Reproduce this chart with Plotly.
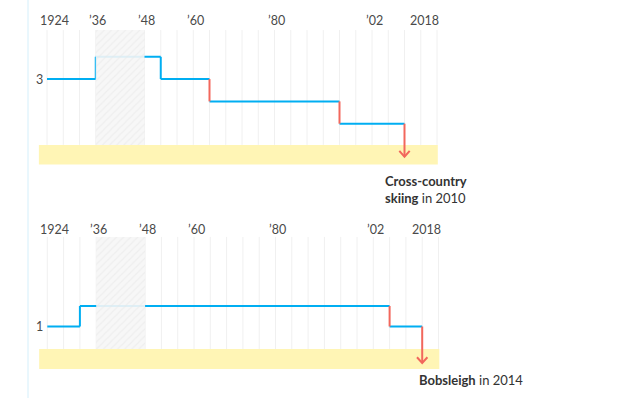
import plotly.graph_objects as go

# ---------------- data ----------------
games = [1924, 1928, 1932, 1936, 1940, 1944, 1948, 1952, 1956, 1960, 1964, 1968,
         1972, 1976, 1980, 1984, 1988, 1992, 1994, 1998, 2002, 2006, 2010, 2014, 2018]
cancelled = [1940, 1944]
tick_years = [1924, 1936, 1948, 1960, 1980, 2002, 2018]
tick_text = ["1924", "’36", "’48", "’60", "’80", "’02", "2018"]

xc_years = [1924, 1936, 1952, 1964, 1994, 2010]
xc_values = [3, 4, 3, 2, 1, 0]
xc_red = [False, False, True, True, True]      # colour of the step at xc_years[1:]
xc_ytick = 3

bob_years = [1924, 1932, 2006, 2014]
bob_values = [1, 2, 1, 0]
bob_red = [False, True, True]
bob_ytick = 1

# ---------------- style ----------------
W, H = 632, 398
BLUE = "#00aef2"
RED = "#f2675c"
YELLOW = "#fff5b5"
GRID = "#f0f0f0"
FONT = "Lato"
TICK = "#4a4a4a"
idx = {y: i for i, y in enumerate(games)}

fig = go.Figure()


def panel(years, values, reds, xa, ya, grid_top, band_top, band_bot, tip, chev_dy):
    xr = "x" if xa == "x" else "x2"
    yr = "y" if ya == "y" else "y2"
    # gridlines
    for g in games:
        if g in cancelled:
            continue
        fig.add_shape(type="line", xref=xr, yref=yr, x0=idx[g], x1=idx[g],
                      y0=band_top, y1=grid_top, line=dict(color=GRID, width=1), layer="below")
    # yellow band
    fig.add_shape(type="rect", xref=xr, yref=yr, x0=-0.5, x1=24.05, y0=band_bot, y1=band_top,
                  fillcolor=YELLOW, line=dict(width=0), layer="below")
    bx, by, rx, ry = [], [], [], []
    n = len(years)
    for k in range(n - 1):
        x0, x1 = idx[years[k]], idx[years[k + 1]]
        bx += [x0, x1, None]
        by += [values[k], values[k], None]
        if k < n - 2:
            if reds[k]:
                rx += [x1, x1, None]
                ry += [values[k], values[k + 1], None]
            else:
                bx += [x1, x1, None]
                by += [values[k], values[k + 1], None]
    fig.add_trace(go.Scatter(x=bx, y=by, mode="lines", xaxis=xa, yaxis=ya,
                             line=dict(color=BLUE, width=2), hoverinfo="skip"))
    fig.add_trace(go.Scatter(x=rx, y=ry, mode="lines", xaxis=xa, yaxis=ya,
                             line=dict(color=RED, width=2), hoverinfo="skip"))
    # final arrow
    xe = idx[years[-1]]
    fig.add_trace(go.Scatter(x=[xe, xe, None, xe - 0.32, xe, xe + 0.32],
                             y=[values[-2], tip, None, tip + chev_dy, tip, tip + chev_dy],
                             mode="lines", xaxis=xa, yaxis=ya,
                             line=dict(color=RED, width=2), hoverinfo="skip"))
    # hatched cancelled period
    c0 = idx[cancelled[0]] - 1
    c1 = idx[cancelled[-1]] + 1
    fig.add_trace(go.Scatter(x=[c0, c1, c1, c0, c0],
                             y=[band_top, band_top, grid_top, grid_top, band_top],
                             mode="lines", fill="toself", xaxis=xa, yaxis=ya,
                             line=dict(width=0), fillcolor="rgba(247,247,247,0.9)",
                             fillpattern=dict(shape="/", bgcolor="rgba(247,247,247,0.9)",
                                              fgcolor="#e6e6e6", size=5, solidity=0.25),
                             hoverinfo="skip"))


panel(xc_years, xc_values, xc_red, "x", "y", 5.2, 0.05, -0.83, -0.48, 0.26)
panel(bob_years, bob_values, bob_red, "x2", "y2", 5.37, -0.1, -1.07, -0.78, 0.28)


def py(px):
    return 1 - px / H


# x tick labels (annotations at each panel's top)
for xr, ypx in (("x", 20), ("x2", 229)):
    for j, (ty, tt) in enumerate(zip(tick_years, tick_text)):
        if j == 0:
            anchor, shift = "left", -9
        elif j == len(tick_years) - 1:
            anchor, shift = "right", 4
        else:
            anchor, shift = "center", 2
        fig.add_annotation(x=idx[ty], y=py(ypx), xref=xr, yref="paper", text=tt,
                           showarrow=False, xanchor=anchor, yanchor="middle", xshift=shift,
                           font=dict(family=FONT, size=12.5, color=TICK))

# y tick labels
fig.add_annotation(x=0, y=xc_ytick, xref="x", yref="y", text=str(xc_ytick), showarrow=False,
                   xanchor="right", xshift=-2, font=dict(family=FONT, size=12.5, color=TICK))
fig.add_annotation(x=0, y=bob_ytick, xref="x2", yref="y2", text=str(bob_ytick), showarrow=False,
                   xanchor="right", xshift=-2, font=dict(family=FONT, size=12.5, color=TICK))

# event labels
fig.add_annotation(x=383 / W, y=py(171), xref="paper", yref="paper",
                   text="<b>Cross-country</b><br><b>skiing</b> in 2010",
                   showarrow=False, xanchor="left", yanchor="top", align="left",
                   font=dict(family=FONT, size=13, color="#333333"))
fig.add_annotation(x=416.5 / W, y=py(380), xref="paper", yref="paper",
                   text="<b>Bobsleigh</b> in 2014",
                   showarrow=False, xanchor="left", yanchor="middle", align="left",
                   font=dict(family=FONT, size=13, color="#333333"))

# left page border
fig.add_shape(type="line", xref="paper", yref="paper", x0=28 / W, x1=28 / W, y0=0, y1=1,
              line=dict(color="#d4effb", width=1))

ax = dict(visible=False, fixedrange=True)
fig.update_layout(
    width=W, height=H, margin=dict(l=0, r=0, t=0, b=0),
    paper_bgcolor="white", plot_bgcolor="white", showlegend=False,
    xaxis=dict(ax, domain=[0, 1], range=[-47 / 16.25, (W - 47) / 16.25], anchor="y"),
    xaxis2=dict(ax, domain=[0, 1], range=[-47.3 / 16.3, (W - 47.3) / 16.3],
                overlaying="x", anchor="y2"),
    yaxis=dict(ax, domain=[0, 1], range=[-(H - 146) / 22.3, 146 / 22.3], anchor="x"),
    yaxis2=dict(ax, domain=[0, 1], range=[-(H - 347) / 20.5, 347 / 20.5],
                overlaying="y", anchor="x2"),
)

fig.write_html("out.html", config={"displayModeBar": False},
               post_script="document.body.style.margin='0';document.body.style.overflow='hidden';")
